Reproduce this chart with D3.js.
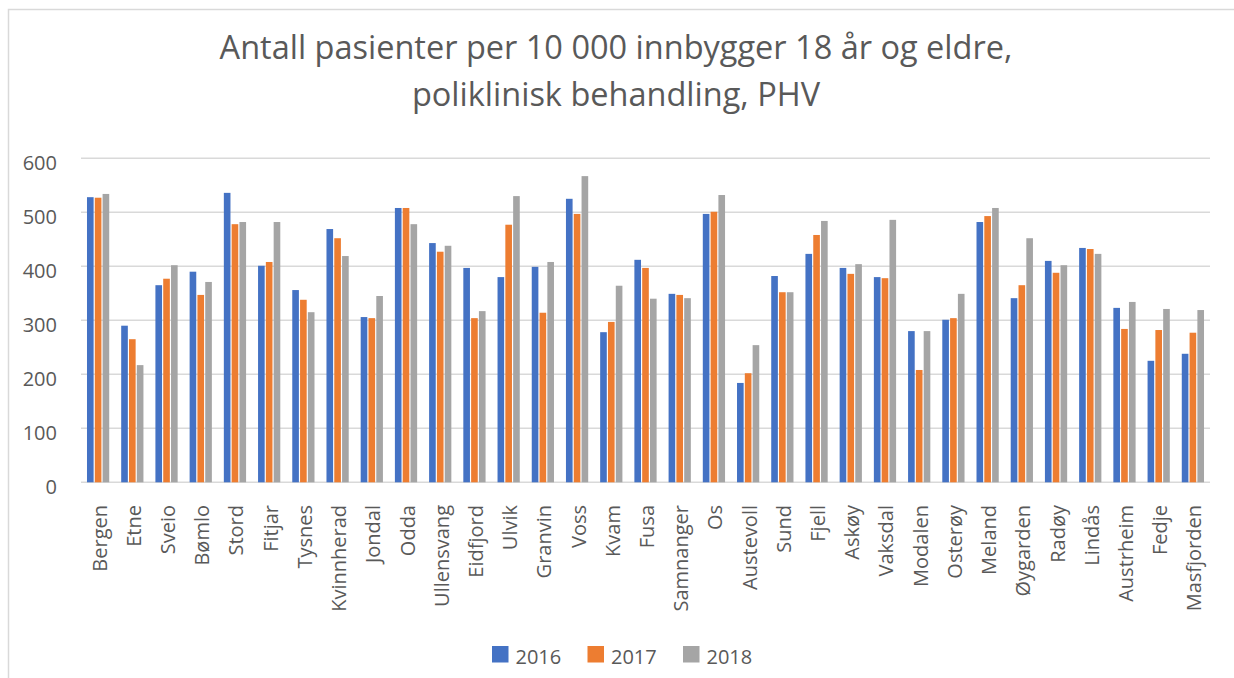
<!DOCTYPE html>
<html>
<head>
<meta charset="utf-8">
<script src="https://cdn.jsdelivr.net/npm/d3@7"></script>
<style>
  html, body { margin: 0; padding: 0; background: #fff; }
  svg { display: block; }
</style>
</head>
<body>
<div id="chart"></div>
<script>
// data
const kommuner = ["Bergen", "Etne", "Sveio", "Bømlo", "Stord", "Fitjar", "Tysnes", "Kvinnherad",
  "Jondal", "Odda", "Ullensvang", "Eidfjord", "Ulvik", "Granvin", "Voss", "Kvam", "Fusa",
  "Samnanger", "Os", "Austevoll", "Sund", "Fjell", "Askøy", "Vaksdal", "Modalen", "Osterøy",
  "Meland", "Øygarden", "Radøy", "Lindås", "Austrheim", "Fedje", "Masfjorden"];
const years = ["2016", "2017", "2018"];
const v2016 = [528, 290, 365, 390, 536, 401, 356, 469, 306, 508, 443, 397, 380, 399, 525, 278, 412,
  349, 497, 184, 382, 423, 397, 380, 280, 301, 482, 341, 410, 434, 323, 225, 238];
const v2017 = [527, 265, 377, 347, 478, 408, 338, 452, 304, 508, 427, 304, 477, 314, 497, 297, 397,
  347, 501, 202, 352, 458, 386, 378, 208, 304, 493, 365, 388, 432, 284, 282, 277];
const v2018 = [534, 217, 402, 371, 482, 482, 315, 419, 345, 478, 438, 317, 530, 408, 567, 364, 340,
  341, 532, 254, 352, 484, 404, 486, 280, 349, 508, 452, 402, 423, 334, 321, 319];
const yTicks = [0, 100, 200, 300, 400, 500, 600];
const colors = ["#4472C4", "#ED7D31", "#A5A5A5"];
const titleLines = ["Antall pasienter per 10 000 innbygger 18 år og eldre,", "poliklinisk behandling, PHV"];

const W = 1234, H = 678;
const font = "'Open Sans', sans-serif";
const txt = "#595959";
const plot = { left: 81, right: 1210, top: 158.3, bottom: 482.3 };

const series = [v2016, v2017, v2018];
const rows = kommuner.map((k, i) => ({ k, vals: years.map((y, j) => ({ y, v: series[j][i] })) }));

const svg = d3.select("#chart").append("svg")
  .attr("width", W).attr("height", H);

// chart frame (right and bottom edges fall outside the picture)
svg.append("rect").attr("x", 8.5).attr("y", 9.5).attr("width", 1260).attr("height", 700)
  .attr("fill", "none").attr("stroke", "#d9d9d9").attr("stroke-width", 1.5);

svg.append("g").selectAll("text").data(titleLines).join("text")
  .attr("x", 616).attr("y", (d, i) => 59 + i * 47)
  .attr("text-anchor", "middle").attr("font-family", font).attr("font-size", "32.5px")
  .attr("fill", txt).text(d => d);

const y = d3.scaleLinear().domain([0, 600]).range([plot.bottom, plot.top]);
const x0 = d3.scaleBand().domain(kommuner).range([plot.left, plot.right])
  .paddingInner(0.35).paddingOuter(0.175);
const x1 = d3.scaleBand().domain(years).range([0, x0.bandwidth()]).paddingInner(0.15);

/* gridlines */
svg.append("g").selectAll("line").data(yTicks).join("line")
  .attr("x1", plot.left).attr("x2", plot.right)
  .attr("y1", d => y(d)).attr("y2", d => y(d))
  .attr("stroke", "#d9d9d9").attr("stroke-width", 1.5);

/* y labels */
svg.append("g").selectAll("text").data(yTicks).join("text")
  .attr("x", 57).attr("y", d => y(d) + 12)
  .attr("text-anchor", "end").attr("font-family", font).attr("font-size", "20px")
  .attr("fill", txt).text(d => d);

/* bars */
const grp = svg.append("g").selectAll("g").data(rows).join("g")
  .attr("transform", d => `translate(${x0(d.k)},0)`);
grp.selectAll("rect").data(d => d.vals).join("rect")
  .attr("x", d => x1(d.y)).attr("width", x1.bandwidth())
  .attr("y", d => y(d.v)).attr("height", d => y(0) - y(d.v))
  .attr("fill", (d, i) => colors[i]);

/* category labels, rotated */
svg.append("g").selectAll("text").data(kommuner).join("text")
  .attr("transform", d => `translate(${x0(d) + x0.bandwidth() / 2 + 1.5},505) rotate(-90)`)
  .attr("text-anchor", "end").attr("dy", "0.35em")
  .attr("font-family", font).attr("font-size", "20px").attr("fill", txt)
  .text(d => d);

/* legend */
const leg = svg.append("g").selectAll("g").data(years).join("g")
  .attr("transform", (d, i) => `translate(${492 + i * 95.5},646)`);
leg.append("rect").attr("width", 16.5).attr("height", 16.5).attr("fill", (d, i) => colors[i]);
leg.append("text").attr("x", 23.5).attr("y", 17.5)
  .attr("font-family", font).attr("font-size", "20px").attr("fill", txt).text(d => d);
</script>
</body>
</html>
